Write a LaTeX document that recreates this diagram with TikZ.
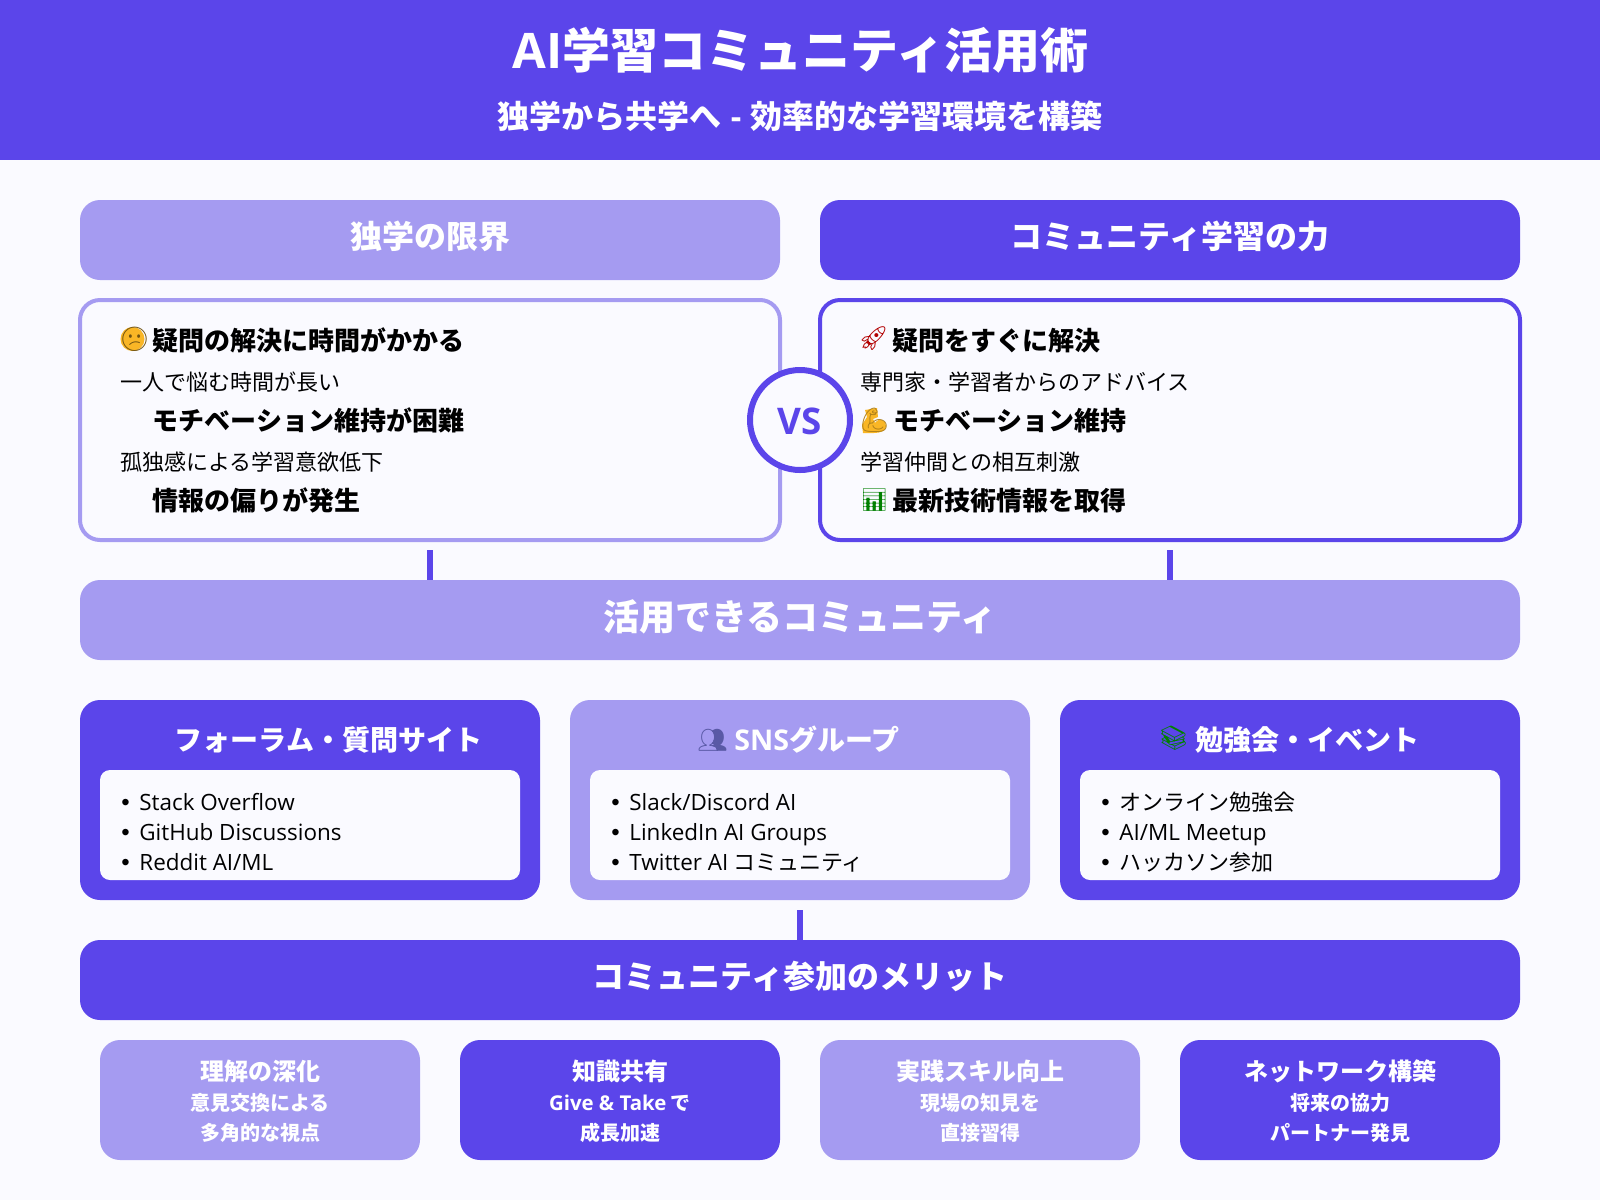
\documentclass[tikz,border=0pt]{standalone}
\usepackage{fontspec}
\usepackage{xcolor}
\usepackage{tikz}
\usetikzlibrary{positioning}
\setmainfont{Noto Sans CJK JP}
\newfontfamily\latinfont[Scale=1.02]{Open Sans}
\newfontfamily\bulletfont{Liberation Sans}
\newfontfamily\emojifont{Noto Emoji}
\newcommand{\lat}[1]{{\latinfont #1}}
\definecolor{violet}{HTML}{5B45EA}
\definecolor{lilac}{HTML}{A59BF1}
\definecolor{paper}{HTML}{FAFAFF}
\definecolor{amber}{HTML}{F9B626}
\tikzset{
    plate/.style={inner sep=0, outer sep=0, align=center},
    headbox/.style={plate, minimum width=350pt, minimum height=40pt, rounded corners=10pt, text=white, text depth=5pt, font=\fontsize{16}{20}\selectfont\bfseries},
    panelbox/.style={plate, minimum width=350pt, minimum height=120pt, rounded corners=10pt, line width=2pt, fill=paper},
    widebar/.style={plate, minimum width=720pt, minimum height=40pt, rounded corners=10pt, text=white, text depth=5pt},
    cardbox/.style={plate, minimum width=230pt, minimum height=100pt, rounded corners=10pt},
    sheetbox/.style={plate, minimum width=210pt, minimum height=55pt, rounded corners=5pt, fill=paper},
    gainbox/.style={plate, minimum width=160pt, minimum height=60pt, rounded corners=10pt},
    stub/.style={draw=violet, line width=3pt, shorten <=5pt},
    boldline/.style={anchor=west, inner sep=0, text height=11.2pt, text depth=1.6pt, font=\fontsize{13}{16}\selectfont\bfseries},
    thinline/.style={anchor=west, inner sep=0, text height=9.5pt, text depth=1.5pt, font=\fontsize{11}{14}\selectfont},
    cardtitle/.style={anchor=west, inner sep=0, text=white, text height=12pt, text depth=1.8pt, font=\fontsize{14}{18}\selectfont\bfseries},
    icon/.style={anchor=west, inner sep=0, font=\emojifont\fontsize{12}{14}\selectfont},
    gaintitle/.style={inner sep=0, text=white, text height=10.2pt, text depth=1.5pt, font=\fontsize{12}{15}\selectfont\bfseries},
    gainline/.style={inner sep=0, text=white, text height=8.5pt, text depth=1.3pt, font=\fontsize{10}{12}\selectfont\bfseries},
}
\newcommand{\itemrow}[1]{\makebox[9pt][l]{\bulletfont\fontsize{12}{14}\selectfont •}#1}

\begin{document}
\begin{tikzpicture}[x=0.5pt, y=-0.5pt]

\useasboundingbox (0,0) rectangle (1600,1200);
\fill[paper] (0,0) rectangle (1600,1200);

% Title band
\node[plate, fill=violet, minimum width=800pt, minimum height=80pt] (band) at (800,80) {};
\node[inner sep=0, text=white, font=\fontsize{24}{28}\selectfont\bfseries] (title) at (800.5,50) {\lat{AI}学習コミュニティ活用術};
\node[inner sep=0, text=white, font=\fontsize{16}{20}\selectfont\bfseries] (subtitle) at (800,116) {独学から共学へ\hspace{1pt} \lat{-} \hspace{1pt}効率的な学習環境を構築};

% Two columns
\node[headbox, fill=lilac] (soloHead) at (430,240) {独学の限界};
\node[headbox, fill=violet] (groupHead) at (1170,240) {コミュニティ学習の力};
\node[panelbox, draw=lilac] (soloPanel) at (430,420) {};
\node[panelbox, draw=violet] (groupPanel) at (1170,420) {};

\node[circle, inner sep=0, minimum size=12pt, fill=amber] (soloFace) at (132.5,339) {};
\node[icon, text=amber!45!black] (soloIcon) at (119,339) {😕};
\node[boldline] (soloA) at (152.5,341) {疑問の解決に時間がかかる};
\node[thinline] (soloAsub) at (120,382) {一人で悩む時間が長い};
\node[boldline] (soloB) at (152.5,421) {モチベーション維持が困難};
\node[thinline] (soloBsub) at (120,462) {孤独感による学習意欲低下};
\node[boldline] (soloC) at (152.5,501) {情報の偏りが発生};

\node[icon, text=red!70!black] (groupIconA) at (858,339) {🚀};
\node[boldline] (groupA) at (892,341) {疑問をすぐに解決};
\node[thinline] (groupAsub) at (860,382) {専門家・学習者からのアドバイス};
\fill[amber] (865,410) -- (877,408) -- (878,417) -- (873,419) -- (875,423) .. controls (879,417) and (886,420) .. (886,426) .. controls (886,431) and (880,433) .. (874,433) -- (863,433) -- (862,425) -- (867,417) -- cycle;
\node[icon, text=amber!70!black] (groupIconB) at (859,420) {💪};
\node[boldline] (groupB) at (893,421) {モチベーション維持};
\node[thinline] (groupBsub) at (860,462) {学習仲間との相互刺激};
\node[icon, text=green!50!black, font=\emojifont\fontsize{11}{14}\selectfont] (groupIconC) at (860,500) {📊};
\node[boldline] (groupC) at (892,501) {最新技術情報を取得};

% VS badge
\node[circle, inner sep=0, outer sep=0, minimum size=50pt, draw=violet, line width=3pt, fill=paper, text=violet, text height=14.8pt, text depth=0pt, font=\latinfont\fontsize{18}{20}\selectfont\bfseries] (versus) at (800,420) {VS};

% Community bar
\node[widebar, fill=lilac, font=\fontsize{18}{22}\selectfont\bfseries] (hubBar) at (800,620) {活用できるコミュニティ};
\draw[stub] (soloPanel.south) -- (soloPanel.south |- hubBar.north);
\draw[stub] (groupPanel.south) -- (groupPanel.south |- hubBar.north);

% Community cards
\foreach \name/\xpos/\tone in {forum/310/violet, social/800/lilac, event/1290/violet} {
    \node[cardbox, fill=\tone] (\name Card) at (\xpos,800) {};
    \node[sheetbox] (\name Sheet) at (\xpos,825) {};
}
\node[cardtitle] (forumTitle) at (174.5,740) {フォーラム・質問サイト};
\node[icon, text=blue!30!gray] (socialIcon) at (697,740) {👥};
\node[cardtitle] (socialTitle) at (734,740) {\lat{SNS}グループ};
\node[icon, text=green!50!black] (eventIcon) at (1158,738) {📚};
\node[cardtitle] (eventTitle) at (1195,740) {勉強会・イベント};

\foreach \ypos/\entry in {802/{Stack Overflow}, 832/{GitHub Discussions}, 862/{Reddit AI/ML}}
    \node[thinline] (forumItem\ypos) at (121,\ypos) {\itemrow{\lat{\entry}}};
\foreach \ypos/\entry in {802/{\lat{Slack/Discord AI}}, 832/{\lat{LinkedIn AI Groups}}, 862/{\lat{Twitter AI} コミュニティ}}
    \node[thinline] (socialItem\ypos) at (611,\ypos) {\itemrow{\entry}};
\foreach \ypos/\entry in {802/{オンライン勉強会}, 832/{\lat{AI/ML Meetup}}, 862/{ハッカソン参加}}
    \node[thinline] (eventItem\ypos) at (1101,\ypos) {\itemrow{\entry}};

% Merits
\node[widebar, fill=violet, font=\fontsize{16}{20}\selectfont\bfseries] (gainBar) at (800,980) {コミュニティ参加のメリット};
\draw[stub] (socialCard.south) -- (gainBar.north);

\foreach \name/\xpos/\tone/\head/\lineA/\lineB in {
    depth/260/lilac/{理解の深化}/{意見交換による}/{多角的な視点},
    share/620/violet/{知識共有}/{\lat{Give \& Take} で}/{成長加速},
    skill/980/lilac/{実践スキル向上}/{現場の知見を}/{直接習得},
    network/1340/violet/{ネットワーク構築}/{将来の協力}/{パートナー発見}} {
    \node[gainbox, fill=\tone] (\name Box) at (\xpos,1100) {};
    \node[gaintitle] (\name Head) at (\xpos,1072) {\head};
    \node[gainline] (\name A) at (\xpos,1103) {\lineA};
    \node[gainline] (\name B) at (\xpos,1133) {\lineB};
}

\end{tikzpicture}
\end{document}
